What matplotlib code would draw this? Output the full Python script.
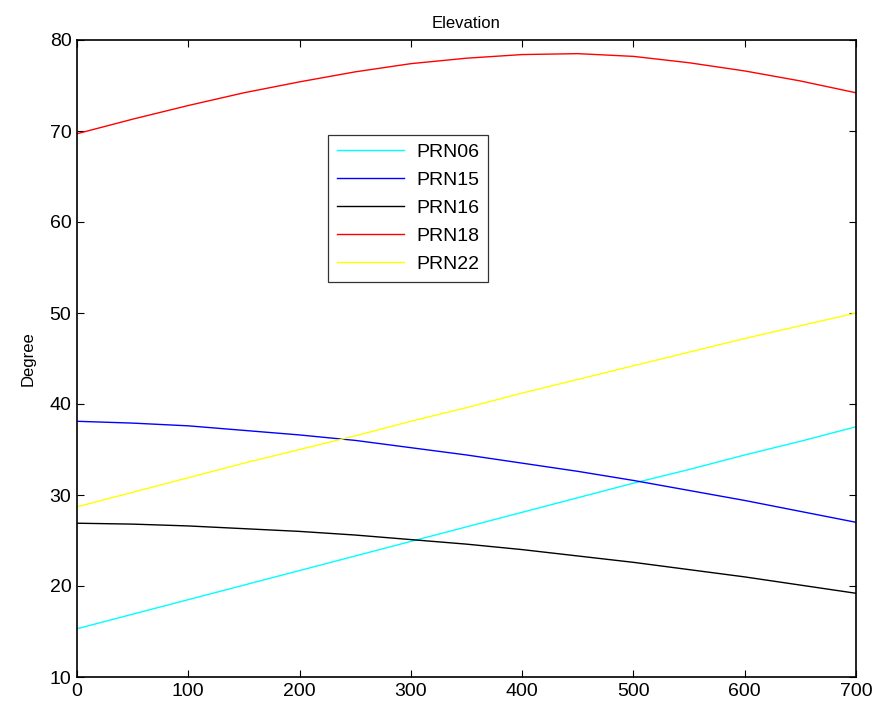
import matplotlib
matplotlib.use('Agg')
import matplotlib.pyplot as plt

plt.rcParams['font.family'] = ['Liberation Sans', 'DejaVu Sans']

# sample times
t = [0, 50, 100, 150, 200, 250, 300, 350, 400, 450, 500, 550, 600, 650, 700]

prn06 = [15.3, 16.9, 18.5, 20.1, 21.7, 23.3, 24.9, 26.5, 28.1, 29.7, 31.3, 32.8, 34.4, 35.9, 37.5]
prn15 = [38.1, 37.9, 37.6, 37.1, 36.6, 36.0, 35.2, 34.4, 33.5, 32.6, 31.6, 30.5, 29.4, 28.2, 27.0]
prn16 = [26.9, 26.8, 26.6, 26.3, 26.0, 25.6, 25.1, 24.6, 24.0, 23.3, 22.6, 21.8, 21.0, 20.1, 19.2]
prn18 = [69.7, 71.3, 72.8, 74.2, 75.4, 76.5, 77.4, 78.0, 78.4, 78.5, 78.2, 77.5, 76.6, 75.5, 74.2]
prn22 = [28.7, 30.3, 31.9, 33.5, 35.0, 36.5, 38.1, 39.6, 41.2, 42.7, 44.2, 45.7, 47.2, 48.6, 50.0]

series = [('PRN06', prn06, 'cyan'), ('PRN15', prn15, 'blue'), ('PRN16', prn16, 'black'),
          ('PRN18', prn18, 'red'), ('PRN22', prn22, 'yellow')]

fig = plt.figure(figsize=(8.79, 7.06), dpi=100)
ax = fig.add_axes([77 / 879, 29 / 706, 779 / 879, 637 / 706])

for name, vals, col in series:
    ax.plot(t, vals, color=col, linewidth=1.0, label=name)

ax.set_xlim(0, 700)
ax.set_ylim(10, 80)
ax.set_xticks(range(0, 701, 100))
ax.set_yticks(range(10, 81, 10))

# matlab-like frame: ticks inside on all sides
ax.tick_params(direction='in', top=True, right=True, length=5, labelsize=14, pad=4)
for sp in ax.spines.values():
    sp.set_linewidth(1.2)

ax.set_title('Elevation', fontsize=12, pad=9)
ax.set_ylabel('Degree', fontsize=12, labelpad=10)

leg = ax.legend(loc='upper left', bbox_to_anchor=(0.322, 0.851), borderaxespad=0,
                fontsize=14, frameon=True, fancybox=False, edgecolor='black',
                handlelength=3.45, labelspacing=0.53, borderpad=0.45, handletextpad=0.65)
leg.get_frame().set_linewidth(0.9)

plt.savefig('out.png', dpi=100, facecolor='white')
plt.close()
